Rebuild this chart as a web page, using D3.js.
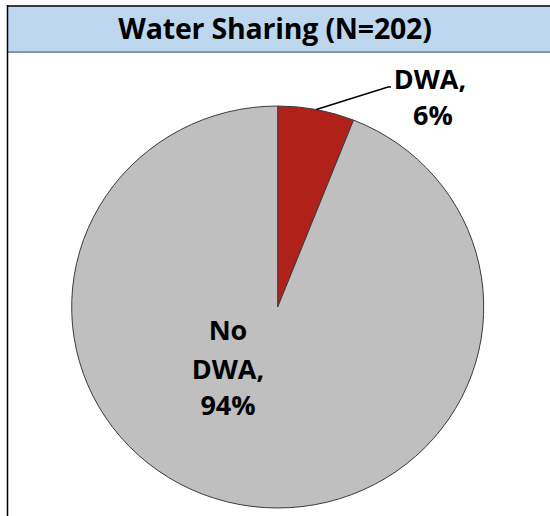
<!DOCTYPE html>
<html>
<head>
<meta charset="utf-8">
<script src="https://cdn.jsdelivr.net/npm/d3@7"></script>
<style>
  body { margin: 0; background: #fff; }
  svg { display: block; }
</style>
</head>
<body>
<svg id="chart"></svg>
<script>
// chart data
var title = "Water Sharing (N=202)"
var categories = ["DWA", "No DWA"]
var percents = [6, 94]
var colors = ["#b0211a", "#bfbfbf"]

var dimensions = {
    width: 550,
    height: 516,
    cx: 277.7,
    cy: 307,
    r: 201
}

var svg = d3.select("#chart")
            .attr("width", dimensions.width)
            .attr("height", dimensions.height)

// title band
svg.append("rect")
    .attr("x", 8).attr("y", 6)
    .attr("width", dimensions.width).attr("height", 46)
    .attr("fill", "#bdd7ee")
svg.append("line")
    .attr("x1", 8).attr("x2", dimensions.width)
    .attr("y1", 52).attr("y2", 52)
    .attr("stroke", "#8497a8").attr("stroke-width", 2)
svg.append("line")
    .attr("x1", 7).attr("x2", dimensions.width)
    .attr("y1", 6).attr("y2", 6)
    .attr("stroke", "#000").attr("stroke-width", 1.5)
svg.append("line")
    .attr("x1", 7.5).attr("x2", 7.5)
    .attr("y1", 5).attr("y2", dimensions.height)
    .attr("stroke", "#000").attr("stroke-width", 1.5)

svg.append("text")
    .attr("x", 275).attr("y", 39)
    .attr("text-anchor", "middle")
    .style("font-family", "'Open Sans', sans-serif")
    .style("font-weight", "bold")
    .style("font-size", "28.5px")
    .style("letter-spacing", "-0.2px")
    .attr("fill", "#000")
    .text(title)

// pie
var data = categories.map(function(c, i){
    return {name: c, value: percents[i], color: colors[i]}
})

var pie = d3.pie().sort(null).value(d => d.value)
var arcs = pie(data)
var arcGen = d3.arc().innerRadius(0).outerRadius(dimensions.r)

var g = svg.append("g")
    .attr("transform", `translate(${dimensions.cx},${dimensions.cy}) scale(1.025,1)`)

g.selectAll("path")
    .data(arcs)
    .enter()
    .append("path")
    .attr("d", arcGen)
    .attr("fill", d => d.data.color)
    .attr("stroke", "#3a3a3a")
    .attr("stroke-width", 1)
    .attr("vector-effect", "non-scaling-stroke")

var labelFont = function(sel){
    sel.style("font-family", "'Open Sans', sans-serif")
       .style("font-weight", "bold")
       .style("font-size", "27px")
       .style("letter-spacing", "0px")
       .attr("fill", "#000")
       .attr("text-anchor", "middle")
}

// DWA label with leader line
var a0 = arcs[0]
var mid = (a0.startAngle + a0.endAngle) / 2
var px = dimensions.cx + Math.sin(mid) * dimensions.r * 1.025
var py = dimensions.cy - Math.cos(mid) * dimensions.r
svg.append("polyline")
    .attr("points", `${px},${py} 388,87 391,87`)
    .attr("fill", "none")
    .attr("stroke", "#000")
    .attr("stroke-width", 1.5)

var t1 = svg.append("text").call(labelFont)
t1.append("tspan").attr("x", 430).attr("y", 89).text(a0.data.name + ",")
t1.append("tspan").attr("x", 433).attr("y", 125).text(a0.data.value + "%")

// No DWA label inside
var a1 = arcs[1]
var words = a1.data.name.split(" ")
var t2 = svg.append("text").call(labelFont)
t2.append("tspan").attr("x", 228).attr("y", 340).text(words[0])
t2.append("tspan").attr("x", 228).attr("y", 379).text(words[1] + ",")
t2.append("tspan").attr("x", 228).attr("y", 415).text(a1.data.value + "%")
</script>
</body>
</html>
